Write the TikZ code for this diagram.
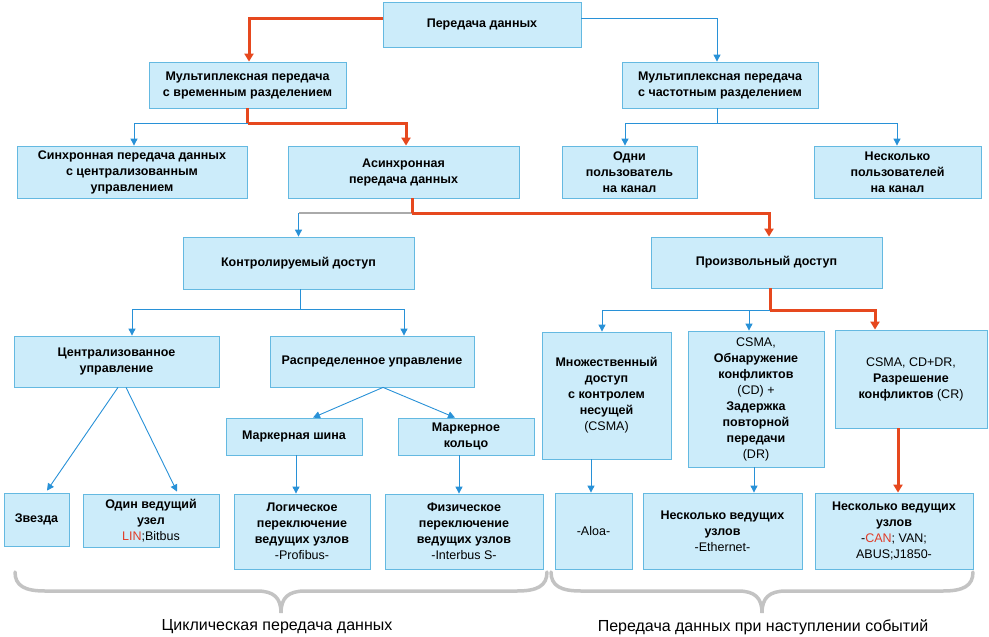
\documentclass[tikz,border=0pt]{standalone}
\usepackage{fontspec}
\setmainfont{Liberation Sans}
\usetikzlibrary{arrows.meta}
\definecolor{boxfill}{RGB}{204,236,250}
\definecolor{boxline}{RGB}{100,185,225}
\definecolor{barc}{RGB}{40,145,215}
\definecolor{rarc}{RGB}{230,72,30}
\definecolor{brc}{RGB}{195,195,195}
\definecolor{lred}{RGB}{225,60,40}
\definecolor{glinec}{RGB}{170,170,170}
\newcommand\mybox[7][]{%
  \node[box,#1,minimum width={(#5-#3)*1pt},minimum height={(#6-#4)*1pt}]
    (#2) at ({(#3+#5)/2},{(#4+#6)/2}) {#7};}
\newcommand\lt[1]{{\mdseries #1}}
\tikzset{
  box/.style={draw=boxline,fill=boxfill,line width=0.8pt,align=center,inner sep=1pt,
    font=\fontsize{12.5}{16}\selectfont\bfseries,text=black},
  barrow/.style={draw=barc,line width=0.9pt,-{Triangle[length=7pt,width=7pt]}},
  bline/.style={draw=barc,line width=0.9pt},
  gline/.style={draw=glinec,line width=1.2pt},
  rarrow/.style={draw=rarc,line width=3pt,-{Triangle[length=8pt,width=9pt]}},
  rline/.style={draw=rarc,line width=3pt},
  brace/.style={draw=brc,line width=3.5pt,line cap=round},
  lab/.style={font=\fontsize{16}{19}\selectfont,text=black,inner sep=0pt}
}
\begin{document}
\begin{tikzpicture}[x=1pt,y=-1pt]
\useasboundingbox (0,0) rectangle (989,637);
% boxes
\mybox{top}{383}{2}{581}{47}{Передача данных}
\mybox{tdm}{149}{62}{346}{108}{Мультиплексная передача\\с временным разделением}
\mybox{fdm}{622}{62}{818}{108}{Мультиплексная передача\\с частотным разделением}
\mybox{sync}{17}{146}{247}{198}{Синхронная передача данных\\с централизованным\\управлением}
\mybox{async}{288}{146}{519}{198}{Асинхронная\\передача данных}
\mybox{one}{562}{146}{697}{198}{Одни\\пользователь\\на канал}
\mybox{many}{814}{146}{981}{198}{Несколько\\пользователей\\на канал}
\mybox{ctrl}{183}{237}{414}{289}{Контролируемый доступ}
\mybox{rand}{651}{237}{882}{288}{Произвольный доступ}
\mybox{central}{14}{336}{219}{387}{Централизованное\\управление}
\mybox{distr}{270}{336}{474}{387}{Распределенное управление}
\mybox{tbus}{226}{418}{362}{455}{Маркерная шина}
\mybox{tring}{398}{418}{534}{455}{Маркерное\\кольцо}
\mybox{star}{4}{493}{69}{546}{Звезда}
\mybox{onem}{83}{494}{219}{547}{Один ведущий\\узел\\\lt{\textcolor{lred}{LIN};Bitbus}}
\mybox{logic}{234}{494}{370}{569}{Логическое\\переключение\\ведущих узлов\\\lt{-Profibus-}}
\mybox{phys}{385}{494}{543}{569}{Физическое\\переключение\\ведущих узлов\\\lt{-Interbus S-}}
\mybox{csma}{542}{332}{671}{459}{Множественный\\доступ\\с контролем\\несущей\\\lt{(CSMA)}}
\mybox{csmacd}{688}{331}{824}{467}{\lt{CSMA,}\\Обнаружение\\конфликтов\\\lt{(CD) +}\\Задержка\\повторной\\передачи\\\lt{(DR)}}
\mybox{csmacr}{835}{330}{987}{428}{\lt{CSMA, CD+DR,}\\Разрешение\\конфликтов \lt{(CR)}}
\mybox{aloa}{555}{493}{632}{569}{\lt{-Aloa-}}
\mybox{eth}{643}{493}{802}{569}{Несколько ведущих\\узлов\\\lt{-Ethernet-}}
\mybox{can}{815}{493}{973}{569}{Несколько ведущих\\узлов\\\lt{-\textcolor{lred}{CAN}; VAN;}\\\lt{ABUS;J1850-}}
% junctions
\coordinate (j2) at (247.5,123);
\coordinate (j3) at (717,123);
\coordinate (j4) at (412,213);
\coordinate (j5) at (298.5,213);
\coordinate (j6) at (300,309);
\coordinate (j7) at (770,310);
% connectors: top level
\draw[barrow] ([yshift=6.5pt]top.east) -| ([xshift=-3pt]fdm.north);
\draw[rarrow] ([yshift=6.5pt]top.west) -| ([xshift=1.5pt]tdm.north);
% tdm
\draw[barrow] (j2) -| ([xshift=2pt]sync.north);
\draw[rline] (tdm.south) -- (j2);
\draw[rarrow] (j2) -| ([xshift=2.5pt]async.north);
% fdm
\draw[bline] ([xshift=-3pt]fdm.south) -- (j3);
\draw[barrow] (j3) -| ([xshift=-4.5pt]one.north);
\draw[barrow] (j3) -| ([xshift=-0.5pt]many.north);
% async
\draw[gline] (j4) -- (j5);
\draw[barrow] (j5) -- (ctrl.north);
\draw[rline] ([xshift=8.5pt]async.south) -- (j4);
\draw[rarrow] (j4) -| ([xshift=2.5pt]rand.north);
% ctrl
\draw[bline] ([xshift=1.5pt]ctrl.south) -- (j6);
\draw[barrow] (j6) -| ([xshift=15.5pt]central.north);
\draw[barrow] (j6) -| ([xshift=32pt]distr.north);
% rand
\draw[barrow] (j7) -| ([xshift=-4.5pt]csma.north);
\draw[barrow] (j7) -| ([xshift=-7pt]csmacd.north);
\draw[rline] ([xshift=3.5pt]rand.south) -- (j7);
\draw[rarrow] (j7) -| ([xshift=-36pt]csmacr.north);
% central
\draw[barrow] ([xshift=1.5pt]central.south) -- ([xshift=10.5pt,yshift=2pt]star.north);
\draw[barrow] ([xshift=9.5pt]central.south) -- ([xshift=26pt,yshift=2pt]onem.north);
% distr
\draw[barrow] ([xshift=11pt]distr.south) -- ([xshift=19pt]tbus.north);
\draw[barrow] ([xshift=11pt]distr.south) -- ([xshift=-11pt]tring.north);
\draw[barrow] ([xshift=2pt]tbus.south) -- ([xshift=-6pt]logic.north);
\draw[barrow] ([xshift=-7pt]tring.south) -- ([xshift=-5pt]phys.north);
% random access children
\draw[barrow] ([xshift=-15.5pt]csma.south) -- ([xshift=-2.5pt]aloa.north);
\draw[barrow] ([xshift=-2pt]csmacd.south) -- ([xshift=31.5pt]eth.north);
\draw[rarrow] ([xshift=-13pt]csmacr.south) -- ([xshift=4pt]can.north);
% braces
\draw[brace] (15,572) .. controls (15,586) and (25,591) .. (45,591) -- (257,591)
  .. controls (274,591) and (281,598) .. (281,613)
  .. controls (281,598) and (288,591) .. (305,591) -- (517,591)
  .. controls (537,591) and (547,586) .. (547,572);
\draw[brace] (551,572) .. controls (551,586) and (561,591) .. (581,591) -- (738,591)
  .. controls (755,591) and (762,598) .. (762,613)
  .. controls (762,598) and (769,591) .. (786,591) -- (943,591)
  .. controls (963,591) and (973,586) .. (973,572);
\node[lab] (cyc) at (277,627) {Циклическая передача данных};
\node[lab] (evt) at (763,627) {Передача данных при наступлении событий};
\end{tikzpicture}
\end{document}
